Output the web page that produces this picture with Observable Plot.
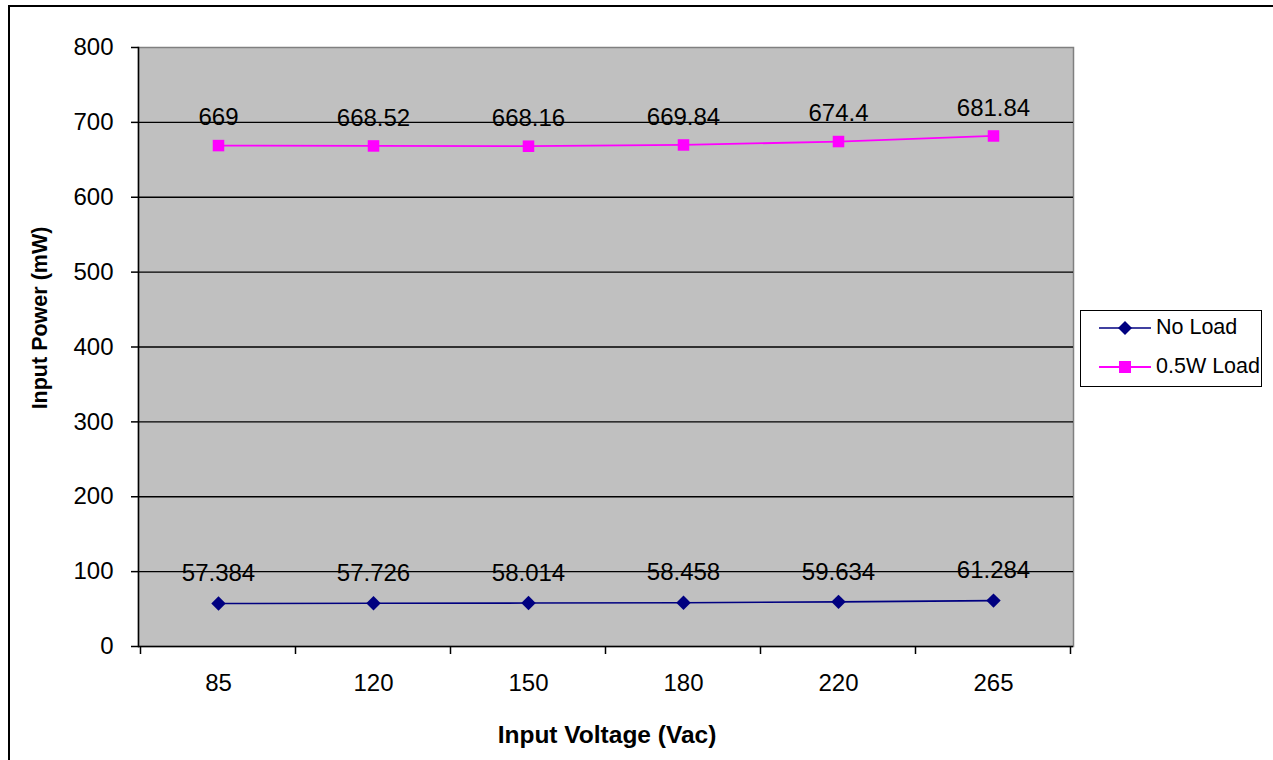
<!DOCTYPE html>
<html>
<head>
<meta charset="utf-8">
<script src="https://cdn.jsdelivr.net/npm/d3@7"></script>
<script src="https://cdn.jsdelivr.net/npm/@observablehq/plot@0.6"></script>
<style>
  html, body { margin: 0; padding: 0; background: #fff; }
  body { width: 1273px; height: 760px; overflow: hidden; position: relative; font-family: "Liberation Sans", Arial, sans-serif; }
  #frame { position: absolute; left: 8px; top: 5px; width: 1300px; height: 800px; border: 2px solid #000; box-sizing: border-box; }
  #chart { position: absolute; left: 0; top: 0; }
  .title { position: absolute; font-weight: bold; color: #000; white-space: nowrap; }
  #xtitle { left: 607px; top: 735px; transform: translate(-50%, -50%); font-size: 24.5px; }
  #ytitle { left: 40px; top: 318px; transform: translate(-50%, -50%) rotate(-90deg); font-size: 21.5px; }
  #legend { position: absolute; left: 1080px; top: 310px; width: 182px; height: 77px; border: 1.5px solid #000; box-sizing: border-box; background: #fff; }
  .lg-row { position: absolute; left: 0; display: flex; align-items: center; font-size: 21.5px; }
  .lg-row svg { margin-left: 18px; margin-right: 5px; }
</style>
</head>
<body>
<div id="frame"></div>
<div id="chart"></div>
<div class="title" id="xtitle">Input Voltage (Vac)</div>
<div class="title" id="ytitle">Input Power (mW)</div>
<div id="legend">
  <div class="lg-row" style="top:4px">
    <svg width="52" height="24"><line x1="0" x2="52" y1="12" y2="12" stroke="#000080" stroke-width="1.6"/><path d="M26,5 L33,12 L26,19 L19,12 Z" fill="#000080"/></svg><span>No Load</span>
  </div>
  <div class="lg-row" style="top:43px">
    <svg width="52" height="24"><line x1="0" x2="52" y1="12" y2="12" stroke="#FF00FF" stroke-width="1.8"/><rect x="20" y="6" width="12" height="12" fill="#FF00FF"/></svg><span>0.5W Load</span>
  </div>
</div>
<script>
const voltages = ["85", "120", "150", "180", "220", "265"];
const noLoad = [57.384, 57.726, 58.014, 58.458, 59.634, 61.284];
const halfWattLoad = [669, 668.52, 668.16, 669.84, 674.4, 681.84];
const noLoadLabels = ["57.384", "57.726", "58.014", "58.458", "59.634", "61.284"];
const halfWattLabels = ["669", "668.52", "668.16", "669.84", "674.4", "681.84"];
const yTicks = [0, 100, 200, 300, 400, 500, 600, 700, 800];
const gridValues = [100, 200, 300, 400, 500, 600, 700];

const rowsNo = voltages.map((v, i) => ({v, p: noLoad[i], label: noLoadLabels[i]}));
const rowsHalf = voltages.map((v, i) => ({v, p: halfWattLoad[i], label: halfWattLabels[i]}));

function boundaryTicks(index, scales, values, dims) {
  const x = scales.x;
  const inner = dims.width - dims.marginLeft - dims.marginRight;
  const step = (x && x.step) ? x.step() : inner / voltages.length;
  const y0 = dims.height - dims.marginBottom;
  const xs = voltages.map(c => x(c) - step / 2).concat([x(voltages[voltages.length - 1]) + step / 2]);
  const g = d3.create("svg:g");
  g.selectAll("line").data(xs).join("line")
    .attr("x1", d => d).attr("x2", d => d)
    .attr("y1", y0).attr("y2", y0 + 8)
    .attr("stroke", "#000").attr("stroke-width", 1.5);
  return g.node();
}

const fontFamily = '"Liberation Sans", Arial, sans-serif';

const chart = Plot.plot({
  width: 1273,
  height: 760,
  marginLeft: 138,
  marginRight: 200,
  marginTop: 47,
  marginBottom: 114,
  style: {fontFamily, color: "#000", background: "transparent", overflow: "visible"},
  x: {type: "point", domain: voltages, padding: 0.5},
  y: {domain: [0, 800]},
  marks: [
    Plot.frame({fill: "#C0C0C0", stroke: "#808080", strokeWidth: 1.5}),
    Plot.ruleY(gridValues, {stroke: "#000", strokeWidth: 1.3}),
    Plot.frame({anchor: "left", stroke: "#000", strokeWidth: 1.5}),
    Plot.ruleY([0], {stroke: "#000", strokeWidth: 1.5}),
    Plot.axisY({ticks: yTicks, tickSize: 7, tickPadding: 18, fontSize: 24, label: null, strokeWidth: 1.5}),
    Plot.axisX({tickSize: 0, tickPadding: 27, fontSize: 24, label: null}),
    boundaryTicks,
    Plot.line(rowsNo, {x: "v", y: "p", stroke: "#000080", strokeWidth: 1.6}),
    Plot.dot(rowsNo, {x: "v", y: "p", symbol: "diamond2", r: 6.5, fill: "#000080", stroke: null}),
    Plot.line(rowsHalf, {x: "v", y: "p", stroke: "#FF00FF", strokeWidth: 1.8}),
    Plot.dot(rowsHalf, {x: "v", y: "p", symbol: "square", r: 6.5, fill: "#FF00FF", stroke: null}),
    Plot.text(rowsNo, {x: "v", y: "p", text: "label", dy: -30, fontSize: 24, fill: "#000", lineAnchor: "middle"}),
    Plot.text(rowsHalf, {x: "v", y: "p", text: "label", dy: -28, fontSize: 24, fill: "#000", lineAnchor: "middle"})
  ]
});
document.getElementById("chart").appendChild(chart);
</script>
</body>
</html>
